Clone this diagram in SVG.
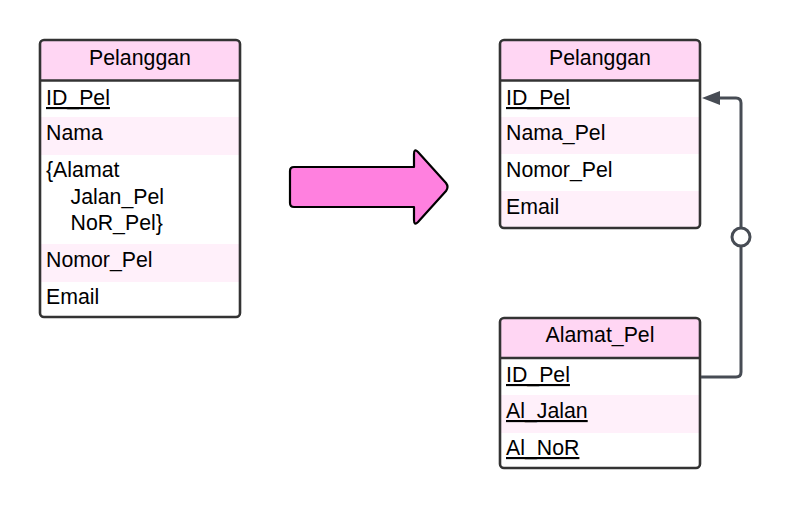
<svg xmlns="http://www.w3.org/2000/svg" width="792" height="509" viewBox="0 0 792 509">
<defs>
<style>
.t{font-family:"Liberation Sans",Arial,sans-serif;font-size:21.3px;fill:#000}
.h{fill:#ffd6f3}
.p{fill:#fff0fa}
.b{fill:none;stroke:#333333;stroke-width:2.6}
.u{text-decoration:underline}
.c{fill:none;stroke:#474c54;stroke-width:3}
</style>
<clipPath id="c1"><rect x="40" y="40" width="200" height="277" rx="4"/></clipPath>
<clipPath id="c2"><rect x="500" y="40" width="200" height="188" rx="4"/></clipPath>
<clipPath id="c3"><rect x="500" y="318" width="200" height="150" rx="4"/></clipPath>
</defs>
<rect width="792" height="509" fill="#ffffff"/>
<g id="pelanggan-left">
<g clip-path="url(#c1)">
<rect x="40" y="40" width="200" height="277" fill="#ffffff"/>
<rect class="h" x="40" y="40" width="200" height="40"/>
<rect class="p" x="40" y="117" width="200" height="38"/>
<rect class="p" x="40" y="244" width="200" height="38"/>
</g>
<line x1="40" y1="80.5" x2="240" y2="80.5" stroke="#333333" stroke-width="2.6"/>
<rect class="b" x="40" y="40" width="200" height="277" rx="4"/>
<text class="t" x="140" y="65" text-anchor="middle">Pelanggan</text>
<text class="t u" x="46" y="105">ID_Pel</text>
<text class="t" x="46" y="140">Nama</text>
<text class="t" x="46" y="177">{Alamat</text>
<text class="t" x="70.5" y="204">Jalan_Pel</text>
<text class="t" x="70.5" y="230">NoR_Pel}</text>
<text class="t" x="46" y="267">Nomor_Pel</text>
<text class="t" x="46" y="304">Email</text>
</g>
<g id="big-arrow">
<path d="M294,167 L414,167 L414,154 Q414,148 418,152 L446,183 Q449,187 446,191 L418,222 Q414,226 414,220 L414,207 L294,207 Q290,207 290,203 L290,171 Q290,167 294,167 Z" fill="#ff80df" stroke="#000000" stroke-width="2.2" stroke-linejoin="round"/>
</g>
<g id="pelanggan-right">
<g clip-path="url(#c2)">
<rect x="500" y="40" width="200" height="188" fill="#ffffff"/>
<rect class="h" x="500" y="40" width="200" height="40"/>
<rect class="p" x="500" y="117" width="200" height="37"/>
<rect class="p" x="500" y="191" width="200" height="37"/>
</g>
<line x1="500" y1="80.5" x2="700" y2="80.5" stroke="#333333" stroke-width="2.6"/>
<rect class="b" x="500" y="40" width="200" height="188" rx="4"/>
<text class="t" x="600" y="65" text-anchor="middle">Pelanggan</text>
<text class="t u" x="506" y="105">ID_Pel</text>
<text class="t" x="506" y="140">Nama_Pel</text>
<text class="t" x="506" y="177">Nomor_Pel</text>
<text class="t" x="506" y="214">Email</text>
</g>
<g id="alamat-pel">
<g clip-path="url(#c3)">
<rect x="500" y="318" width="200" height="150" fill="#ffffff"/>
<rect class="h" x="500" y="318" width="200" height="40"/>
<rect class="p" x="500" y="395" width="200" height="38"/>
</g>
<line x1="500" y1="358" x2="700" y2="358" stroke="#333333" stroke-width="2.6"/>
<rect class="b" x="500" y="318" width="200" height="150" rx="4"/>
<text class="t" x="600" y="342" text-anchor="middle">Alamat_Pel</text>
<text class="t u" x="506" y="382">ID_Pel</text>
<text class="t u" x="506" y="418">Al_Jalan</text>
<text class="t u" x="506" y="455">Al_NoR</text>
</g>
<g id="connectors">
<path class="c" d="M701,377 L736,377 Q741,377 741,372 L741,103 Q741,98 736,98 L718,98"/>
<path d="M702,98 L720,91 L720,105 Z" fill="#474c54"/>
<circle cx="741" cy="237" r="9" fill="#ffffff" stroke="#474c54" stroke-width="3"/>
</g>
</svg>
